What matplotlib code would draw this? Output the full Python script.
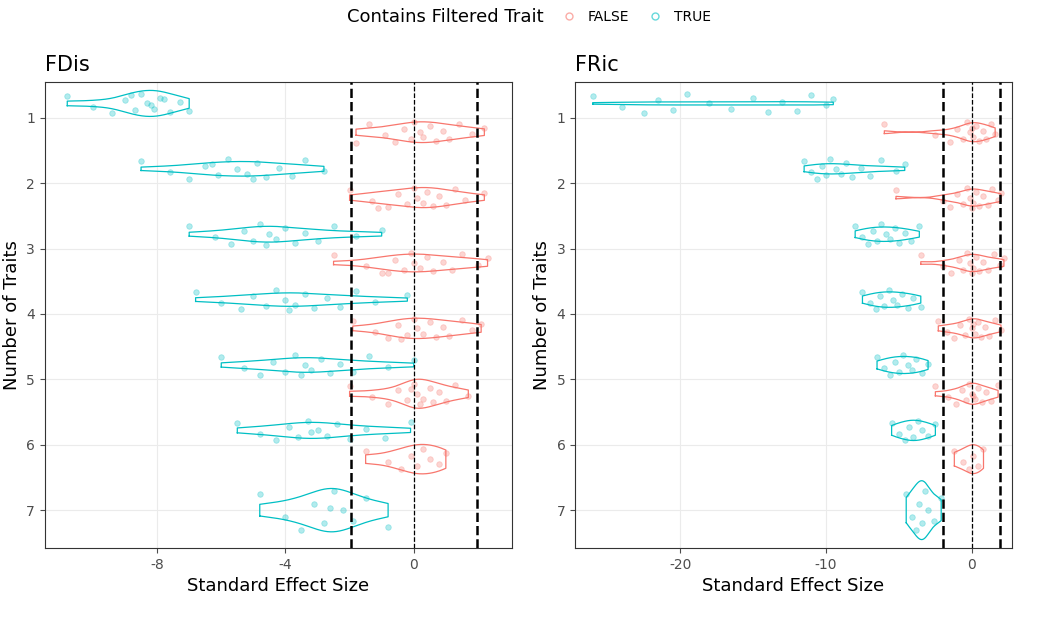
import numpy as np
import matplotlib.pyplot as plt
from matplotlib.lines import Line2D

plt.rcParams["axes.unicode_minus"] = False
RED, CYAN = "#F8766D", "#00BFC4"

# ---- data ------------------------------------------------------------------
fdis_false = {
    1: [-1.4, -0.9, -0.6, -0.3, -0.1, 0.0, 0.2, 0.3, 0.5, 0.7, 0.9, 1.1, 1.4, 1.8, 2.2, -1.8],
    2: [-2.0, -1.3, -0.8, -0.5, -0.2, 0.0, 0.1, 0.3, 0.4, 0.6, 0.8, 1.0, 1.3, 1.6, 2.2, -1.1],
    3: [-2.5, -1.5, -1.0, -0.6, -0.3, -0.1, 0.0, 0.2, 0.4, 0.6, 0.9, 1.2, 1.5, 2.0, 2.3, -0.8],
    4: [-1.9, -1.2, -0.8, -0.5, -0.2, 0.0, 0.1, 0.3, 0.5, 0.7, 0.9, 1.1, 1.5, 1.8, 2.1, -0.4],
    5: [-2.0, -1.3, -0.8, -0.5, -0.2, 0.0, 0.1, 0.3, 0.5, 0.6, 0.8, 1.0, 1.3, 1.7, -0.1, 0.2],
    6: [-1.5, -0.8, -0.4, -0.1, 0.1, 0.3, 0.5, 0.8, 1.0],
}
fdis_true = {
    1: [-10.8, -10.0, -9.4, -9.0, -8.7, -8.5, -8.3, -8.1, -7.9, -7.6, -7.3, -7.0, -8.8, -8.2, -7.8],
    2: [-8.5, -7.6, -7.0, -6.5, -6.1, -5.8, -5.5, -5.2, -4.9, -4.6, -4.2, -3.8, -3.4, -2.8, -6.3, -5.0],
    3: [-7.0, -6.2, -5.7, -5.3, -5.0, -4.8, -4.5, -4.3, -4.0, -3.7, -3.4, -3.0, -2.5, -1.8, -1.0, -4.6],
    4: [-6.8, -6.0, -5.4, -5.0, -4.6, -4.3, -4.0, -3.7, -3.4, -3.1, -2.7, -2.3, -1.8, -1.2, -0.2, -3.9],
    5: [-6.0, -5.3, -4.8, -4.4, -4.0, -3.7, -3.4, -3.2, -2.9, -2.6, -2.3, -1.9, -1.4, -0.8, 0.0, -3.5],
    6: [-5.5, -4.8, -4.3, -3.9, -3.6, -3.3, -3.0, -2.7, -2.4, -2.0, -1.5, -0.9, -0.1, -3.2],
    7: [-4.8, -4.0, -3.5, -3.1, -2.8, -2.5, -2.2, -1.9, -1.5, -0.8, -2.6],
}
fric_false = {
    1: [-6.0, -2.5, -1.5, -1.0, -0.6, -0.3, -0.1, 0.1, 0.3, 0.5, 0.8, 1.0, 1.3, 1.6, 0.0],
    2: [-5.2, -2.0, -1.5, -1.0, -0.6, -0.3, -0.1, 0.1, 0.3, 0.5, 0.8, 1.1, 1.4, 1.8, 2.0, 0.0],
    3: [-3.5, -2.0, -1.4, -0.9, -0.6, -0.3, -0.1, 0.1, 0.3, 0.5, 0.8, 1.1, 1.5, 1.9, 2.2, 0.0],
    4: [-2.3, -1.7, -1.2, -0.8, -0.5, -0.2, 0.0, 0.2, 0.4, 0.6, 0.9, 1.2, 1.6, 2.0, 0.1],
    5: [-2.5, -1.6, -1.1, -0.7, -0.4, -0.2, 0.0, 0.2, 0.4, 0.7, 1.0, 1.3, 1.8, 0.1],
    6: [-1.2, -0.6, -0.2, 0.1, 0.4, 0.8],
}
fric_true = {
    1: [-26, -24, -22.5, -21.5, -20.5, -19.5, -18, -16.5, -15, -14, -13, -12, -11, -10, -9.5],
    2: [-11.5, -11, -10.6, -10.3, -10, -9.7, -9.3, -9, -8.6, -8.2, -7.6, -7, -6.2, -5.2, -4.6],
    3: [-8, -7.5, -7.1, -6.8, -6.5, -6.2, -5.9, -5.6, -5.3, -5, -4.6, -4.2, -3.6],
    4: [-7.5, -7, -6.6, -6.3, -6, -5.7, -5.4, -5.1, -4.8, -4.4, -4, -3.5],
    5: [-6.5, -6, -5.6, -5.3, -5, -4.7, -4.4, -4.1, -3.8, -3.4, -3],
    6: [-5.5, -5, -4.6, -4.3, -4, -3.7, -3.4, -3, -2.5],
    7: [-4.5, -4.1, -3.8, -3.6, -3.4, -3.2, -3, -2.6, -2.1],
}
JIT = [-0.12, 0.05, 0.15, -0.05, 0.1, -0.15, 0.0, 0.08, -0.09, 0.13, -0.02, 0.11, -0.13, 0.03, -0.07, 0.16]


def kde(v):
    v = np.asarray(v, float)
    iqr = np.subtract(*np.percentile(v, [75, 25]))
    bw = 0.9 * min(v.std(ddof=1), iqr / 1.34) * len(v) ** -0.2
    g = np.linspace(v.min(), v.max(), 200)
    d = np.exp(-0.5 * ((g[:, None] - v[None, :]) / bw) ** 2).sum(1) / (len(v) * bw * np.sqrt(2 * np.pi))
    return g, d


def panel(ax, false, true, title, xlim, xticks):
    groups = []
    for k, v in true.items():
        alone = k not in false
        groups.append((k if alone else k - 0.22, v, CYAN, 0.45 if alone else 0.225))
    for k, v in false.items():
        groups.append((k + 0.22, v, RED, 0.225))
    dens = [kde(v) for _, v, _, _ in groups]
    dmax = max(d.max() for _, d in dens)
    for (y0, v, c, w), (g, d) in zip(groups, dens):
        hw = d / dmax * w
        ax.plot(np.r_[g, g[::-1], g[0]], np.r_[y0 + hw, (y0 - hw)[::-1], y0 + hw[0]], color=c, lw=0.9)
        jy = [y0 + JIT[i % len(JIT)] * w / 0.225 for i in range(len(v))]
        ax.scatter(v, jy, s=16, color=c, alpha=0.3, edgecolor=c, linewidth=0.6, zorder=3)
    for xv, ls, lw in [(-1.96, "--", 1.8), (0, "--", 0.9), (1.96, "--", 1.8)]:
        ax.axvline(xv, color="black", ls=ls, lw=lw, zorder=4)
    ax.set_xlim(*xlim)
    ax.set_ylim(7.58, 0.45)
    ax.set_yticks(range(1, 8))
    ax.set_xticks(xticks)
    ax.grid(True, color="#EBEBEB", lw=0.8)
    ax.set_axisbelow(True)
    ax.tick_params(colors="#4D4D4D", labelsize=10)
    for s in ax.spines.values():
        s.set_color("#333333")
    ax.set_title(title, loc="left", fontsize=15, pad=8)
    ax.set_xlabel("Standard Effect Size", fontsize=13)
    ax.set_ylabel("Number of Traits", fontsize=13)


fig = plt.figure(figsize=(10.42, 6.2), dpi=100)
ax1 = fig.add_axes([0.043, 0.116, 0.448, 0.752])
ax2 = fig.add_axes([0.552, 0.116, 0.419, 0.752])
panel(ax1, fdis_false, fdis_true, "FDis", (-11.5, 3.05), [-8, -4, 0])
panel(ax2, fric_false, fric_true, "FRic", (-27.2, 2.74), [-20, -10, 0])

fig.text(0.333, 0.973, "Contains Filtered Trait", fontsize=13, va="center")
handles = [Line2D([], [], marker="o", ls="", color=c, mfc="none", alpha=0.6, ms=5) for c in (RED, CYAN)]
fig.legend(handles, ["FALSE", "TRUE"], loc="center", bbox_to_anchor=(0.61, 0.973), ncol=2,
           frameon=False, fontsize=10, handlelength=1.2, columnspacing=1.2)
fig.savefig("out.png", dpi=100)
